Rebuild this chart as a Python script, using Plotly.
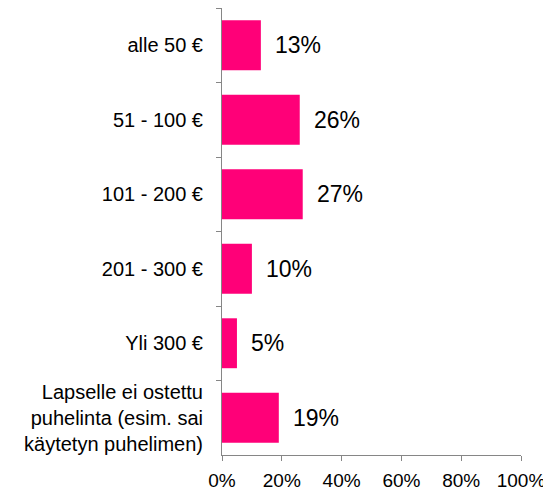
import plotly.graph_objects as go

categories = ["alle 50 €", "51 - 100 €", "101 - 200 €", "201 - 300 €", "Yli 300 €",
              "Lapselle ei ostettu<br>puhelinta (esim. sai<br>käytetyn puhelimen)"]
values = [0.13, 0.26, 0.27, 0.10, 0.05, 0.19]
labels = ["13%", "26%", "27%", "10%", "5%", "19%"]
x_ticks = [0, 0.2, 0.4, 0.6, 0.8, 1.0]
x_tick_labels = ["0%", "20%", "40%", "60%", "80%", "100%"]

FONT = "Liberation Sans, Arial"

fig = go.Figure(go.Bar(
    x=values, y=categories, orientation="h",
    marker=dict(color="#FF0078", line=dict(width=0)),
    hoverinfo="skip",
))

for v, c, t in zip(values, categories, labels):
    fig.add_annotation(x=v, y=c, text=t, showarrow=False, xanchor="left",
                       xshift=12, font=dict(family=FONT, size=23, color="#000000"))

# page body has an 8px default margin, so the figure is sized/offset accordingly
fig.update_layout(
    width=543, height=483,
    margin=dict(l=214, r=30, t=0, b=36),
    paper_bgcolor="white", plot_bgcolor="white",
    bargap=0.33,
    showlegend=False,
    font=dict(family=FONT, color="#000000"),
)
fig.update_xaxes(
    range=[0, 1], tickvals=x_ticks, ticktext=x_tick_labels,
    showline=True, linecolor="#868686", linewidth=1,
    ticks="outside", ticklen=5, tickcolor="#868686",
    showgrid=False, zeroline=False,
    tickfont=dict(size=19, color="#000000"),
    ticklabelstandoff=3,
    automargin=False,
)
fig.update_yaxes(
    autorange="reversed", type="category",
    showline=True, linecolor="#868686", linewidth=1,
    ticks="outside", ticklen=5, tickcolor="#868686", tickson="boundaries",
    showgrid=False, zeroline=False,
    tickfont=dict(size=20, color="#000000"),
    ticklabelstandoff=14,
    automargin=False,
)

fig.write_html("out.html")
